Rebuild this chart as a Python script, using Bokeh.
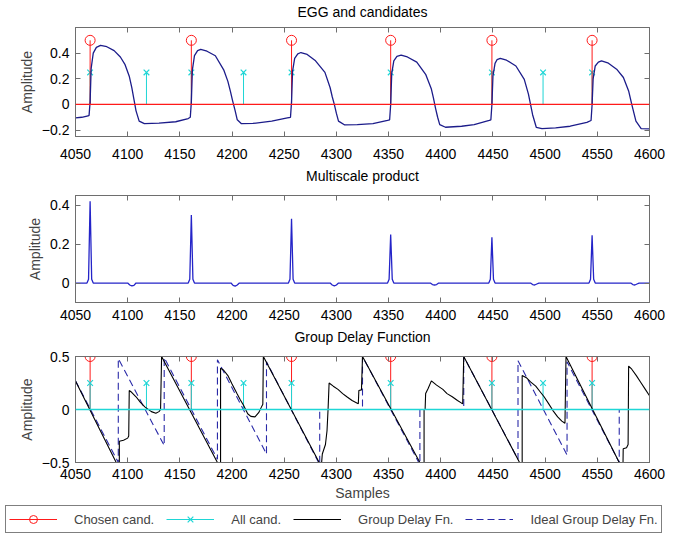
from bokeh.plotting import figure
from bokeh.layouts import column
from bokeh.models import Range1d, FixedTicker, LinearAxis, Span, Legend, LegendItem
from bokeh.embed import file_html
from bokeh.resources import INLINE

FONT = "Liberation Sans"
FRAME = "#6e6e6e"

x_ticks = [4050, 4100, 4150, 4200, 4250, 4300, 4350, 4400, 4450, 4500, 4550, 4600]

chosen_x = [4064, 4161, 4257, 4352, 4449, 4545]
chosen_y = [0.5, 0.5, 0.5, 0.5, 0.5, 0.5]
all_x = [4064, 4118, 4161, 4211, 4257, 4352, 4449, 4498, 4545]
all_y = [0.25, 0.25, 0.25, 0.25, 0.25, 0.25, 0.25, 0.25, 0.25]

egg_x = [4050, 4056, 4062, 4063, 4064, 4065, 4067, 4070, 4074, 4080, 4087, 4093, 4097.5, 4101.5, 4104, 4106, 4108, 4111, 4116, 4130, 4146, 4158, 4160,
         4161, 4162, 4164, 4167, 4170, 4176, 4184, 4192, 4196, 4198.5, 4200.5, 4203, 4205, 4209, 4220, 4238, 4253, 4256,
         4257, 4258, 4260, 4263, 4266, 4272, 4280, 4289, 4294, 4296, 4298, 4300, 4302, 4308, 4320, 4335, 4349, 4351,
         4352, 4353, 4355, 4358, 4362, 4368, 4377, 4385.5, 4391, 4393, 4395, 4397, 4399, 4404.5, 4420, 4432, 4446.5, 4448,
         4449, 4450, 4452, 4454, 4457, 4463, 4472, 4480, 4484, 4486, 4488, 4491.5, 4497, 4510, 4524, 4540, 4544,
         4545, 4546, 4548, 4551, 4554, 4560, 4568.5, 4575, 4580, 4583, 4587, 4592, 4600]
egg_y = [-0.105, -0.10, -0.09, -0.085, 0.02, 0.28, 0.40, 0.445, 0.46, 0.45, 0.42, 0.37, 0.31, 0.22, 0.13, 0.04, -0.05, -0.13, -0.15, -0.145, -0.135, -0.11, -0.10,
         0.02, 0.27, 0.38, 0.42, 0.43, 0.415, 0.38, 0.27, 0.18, 0.10, 0.03, -0.05, -0.12, -0.15, -0.148, -0.13, -0.105, -0.10,
         0.02, 0.26, 0.36, 0.395, 0.405, 0.39, 0.34, 0.25, 0.13, 0.06, 0.0, -0.07, -0.13, -0.16, -0.158, -0.15, -0.125, -0.12,
         0.0, 0.24, 0.34, 0.375, 0.385, 0.37, 0.33, 0.235, 0.12, 0.05, -0.03, -0.10, -0.157, -0.178, -0.17, -0.157, -0.125, -0.12,
         0.0, 0.22, 0.32, 0.35, 0.36, 0.345, 0.30, 0.196, 0.08, 0.0, -0.08, -0.178, -0.188, -0.182, -0.17, -0.14, -0.125,
         0.0, 0.20, 0.30, 0.33, 0.34, 0.325, 0.275, 0.21, 0.105, 0.0, -0.13, -0.188, -0.19]

msp_x = [4050, 4061, 4062.5, 4064, 4065.5, 4067, 4100, 4102, 4104, 4106, 4108,
         4158, 4159.5, 4161, 4162.5, 4164, 4199, 4201, 4203, 4205, 4207,
         4254, 4255.5, 4257, 4258.5, 4260, 4294, 4296, 4298, 4300, 4302,
         4349, 4350.5, 4352, 4353.5, 4355, 4390, 4392, 4394, 4396, 4398,
         4446, 4447.5, 4449, 4450.5, 4452, 4486, 4488, 4490, 4492, 4494,
         4542, 4543.5, 4545, 4546.5, 4548, 4582, 4584, 4586, 4588, 4590, 4600]
msp_y = [0.0, 0.0, 0.02, 0.42, 0.02, 0.0, 0.0, -0.01, -0.015, -0.012, 0.0,
         0.0, 0.02, 0.35, 0.02, 0.0, 0.0, -0.012, -0.016, -0.01, 0.0,
         0.0, 0.02, 0.33, 0.02, 0.0, 0.0, -0.01, -0.015, -0.01, 0.0,
         0.0, 0.02, 0.25, 0.02, 0.0, 0.0, -0.008, -0.01, -0.008, 0.0,
         0.0, 0.02, 0.235, 0.02, 0.0, 0.0, -0.008, -0.01, -0.005, 0.0,
         0.0, 0.02, 0.245, 0.02, 0.0, 0.0, -0.008, -0.01, -0.005, 0.0, 0.0]

gd_x = [4050, 4089, 4090, 4092, 4092, 4096, 4100, 4101, 4101.5, 4104, 4108, 4112, 4116.4, 4122.7, 4127, 4130, 4131.5, 4132.5,
        4186, 4188, 4189, 4189, 4192, 4196, 4200, 4204.7, 4208, 4211, 4215, 4218, 4222, 4225.5, 4228, 4229.5, 4230,
        4283.5, 4285, 4286.5, 4289.5, 4291, 4292, 4293, 4297, 4301.5, 4306, 4310, 4315, 4320, 4321, 4321.5, 4324, 4325,
        4380, 4382, 4384, 4384, 4385, 4385.5, 4388, 4391, 4396, 4402, 4406, 4411, 4416, 4420, 4421, 4422,
        4475.5, 4477, 4478, 4478, 4482, 4486, 4491, 4495, 4499, 4503, 4507.5, 4512, 4516, 4519, 4520,
        4571, 4572, 4574.5, 4574.8, 4578, 4579.5, 4580, 4583, 4587.4, 4592, 4596, 4600]
gd_y = [0.27, -0.5, -0.6, -0.6, -0.3, -0.29, -0.27, -0.25, 0.18, 0.16, 0.12, 0.07, 0.025, -0.02, -0.035, -0.02, 0.0, 0.5,
        -0.5, -0.6, -0.6, 0.39, 0.37, 0.32, 0.24, 0.15, 0.09, 0.04, -0.04, -0.065, -0.07, -0.03, 0.02, 0.05, 0.5,
        -0.5, -0.6, -0.42, -0.33, -0.2, 0.0, 0.25, 0.22, 0.19, 0.15, 0.12, 0.085, 0.06, 0.055, 0.18, 0.185, 0.5,
        -0.5, -0.6, -0.6, 0.0, 0.0, 0.15, 0.2, 0.27, 0.23, 0.19, 0.15, 0.12, 0.085, 0.06, 0.055, 0.5,
        -0.5, -0.6, -0.6, 0.32, 0.3, 0.26, 0.22, 0.17, 0.12, 0.06, -0.01, -0.07, -0.11, -0.13, 0.5,
        -0.5, -0.6, -0.6, -0.37, -0.36, -0.33, 0.41, 0.38, 0.32, 0.25, 0.19, 0.13]

ideal_x = [4050, 4091, 4091, 4135, 4135, 4186, 4186, 4233, 4233, 4284, 4284, 4325, 4325, 4380, 4380, 4422, 4422,
           4474, 4474, 4521, 4521, 4571, 4571, 4600]
ideal_y = [0.27, -0.5, 0.48, -0.34, 0.49, -0.47, 0.47, -0.42, 0.45, -0.52, 0.0, 0.0, 0.5, -0.52, 0.0, 0.0, 0.5,
           -0.47, 0.46, -0.43, 0.45, -0.5, 0.0, 0.0]

legend_labels = ["Chosen cand.", "All cand.", "Group Delay Fn.", "Ideal Group Delay Fn."]

RED = "#ff1a1a"
CYAN = "#1ed6d6"
DASH_BLUE = "#2a2aa8"


def mirror_axis(ticks, label=None, label_standoff=0):
    ax = LinearAxis(ticker=FixedTicker(ticks=ticks), major_label_text_font_size="1px",
                    major_label_text_color=None, major_tick_in=5, major_tick_out=0,
                    major_label_text_line_height=1.0,
                    minor_tick_line_color=None, axis_line_color=FRAME,
                    major_tick_line_color=FRAME, major_label_standoff=0)
    if label:
        ax.axis_label = label
        ax.axis_label_standoff = label_standoff
        ax.axis_label_text_font = FONT
        ax.axis_label_text_font_size = "14px"
        ax.axis_label_text_font_style = "normal"
        ax.axis_label_text_color = "black"
        ax.axis_label_text_line_height = 1.0
    return ax


def make_fig(title, yr, yticks, h, top, bottom, title_standoff, xstand, xlabel=None, xlabel_standoff=3):
    p = figure(width=683, height=h, x_range=Range1d(4050, 4600), y_range=Range1d(*yr),
               output_backend="svg", toolbar_location=None,
               min_border_left=75, min_border_right=34, min_border_top=top, min_border_bottom=bottom)
    p.grid.visible = False
    p.outline_line_color = FRAME
    p.xaxis.ticker = FixedTicker(ticks=x_ticks)
    p.yaxis.ticker = FixedTicker(ticks=yticks)
    p.yaxis.major_label_overrides = {0: "0"}
    for ax in p.xaxis + p.yaxis:
        ax.major_tick_in = 5
        ax.major_tick_out = 0
        ax.minor_tick_line_color = None
        ax.axis_line_color = FRAME
        ax.major_tick_line_color = FRAME
        ax.major_label_text_font = FONT
        ax.major_label_text_font_size = "14px"
        ax.major_label_text_color = "black"
        ax.major_label_text_line_height = 1.0
        ax.axis_label_text_font = FONT
        ax.axis_label_text_font_size = "14px"
        ax.axis_label_text_font_style = "normal"
        ax.axis_label_text_line_height = 1.0
    p.xaxis.major_label_standoff = xstand
    p.yaxis.major_label_standoff = 6
    p.yaxis.axis_label = "Amplitude"
    p.yaxis.axis_label_standoff = 4
    if xlabel:
        p.xaxis.axis_label = xlabel
        p.xaxis.axis_label_standoff = xlabel_standoff
    p.add_layout(mirror_axis(yticks), "right")
    # top mirrored ticks; the subplot title sits on this axis
    p.add_layout(mirror_axis(x_ticks, title, title_standoff), "above")
    return p


# --- EGG and candidates
p1 = make_fig("EGG and candidates", (-0.25, 0.6), [-0.2, 0, 0.2, 0.4], 164, 27, 28, 8, 12)
p1.segment(x0=all_x, y0=0, x1=all_x, y1=all_y, line_color=CYAN, line_width=1)
p1.scatter(all_x, all_y, marker="x", size=8, line_color=CYAN, line_width=1.2)
p1.segment(x0=chosen_x, y0=0, x1=chosen_x, y1=chosen_y, line_color=RED, line_width=1)
p1.scatter(chosen_x, chosen_y, marker="circle", size=10, line_color=RED, fill_color=None, line_width=1)
p1.add_layout(Span(location=0, dimension="width", line_color=RED, line_width=1.2))
p1.line(egg_x, egg_y, line_color="#1c1c8a", line_width=1.3)

# --- Multiscale product
p2 = make_fig("Multiscale product", (-0.1, 0.45), [0, 0.2, 0.4], 161, 29, 23, 12, 7)
p2.line(msp_x, msp_y, line_color="#2424c8", line_width=1.3)

# --- Group Delay Function
p3 = make_fig("Group Delay Function", (-0.5, 0.5), [-0.5, 0, 0.5], 178, 29, 41, 12, 6,
              xlabel="Samples", xlabel_standoff=3)
p3.segment(x0=chosen_x, y0=0, x1=chosen_x, y1=chosen_y, line_color=RED, line_width=1)
p3.scatter(chosen_x, chosen_y, marker="circle", size=10, line_color=RED, fill_color=None, line_width=1)
p3.segment(x0=all_x, y0=0, x1=all_x, y1=all_y, line_color=CYAN, line_width=1)
p3.scatter(all_x, all_y, marker="x", size=8, line_color=CYAN, line_width=1.2)
p3.add_layout(Span(location=0, dimension="width", line_color=CYAN, line_width=1.5))
p3.line(ideal_x, ideal_y, line_color=DASH_BLUE, line_width=1.1, line_dash="7 4")
p3.line(gd_x, gd_y, line_color="black", line_width=1.1)

# --- legend strip: key renderers are hidden, only the legend box is shown
p4 = figure(width=683, height=30, x_range=Range1d(0, 1), y_range=Range1d(0, 1),
            x_axis_type=None, y_axis_type=None, output_backend="svg", toolbar_location=None,
            min_border=0, outline_line_color=None)
k_rs = p4.segment(x0=chosen_x, y0=0, x1=chosen_x, y1=chosen_y, line_color=RED, line_width=1, visible=False)
k_rc = p4.scatter(chosen_x, chosen_y, marker="circle", size=9, line_color=RED, fill_color=None, line_width=1, visible=False)
k_cs = p4.segment(x0=all_x, y0=0, x1=all_x, y1=all_y, line_color=CYAN, line_width=1, visible=False)
k_cx = p4.scatter(all_x, all_y, marker="x", size=7, line_color=CYAN, line_width=1.2, visible=False)
k_gd = p4.line(gd_x, gd_y, line_color="black", line_width=1.1, visible=False)
k_id = p4.line(ideal_x, ideal_y, line_color=DASH_BLUE, line_width=1.1, line_dash="7 4", visible=False)
legend = Legend(items=[
    LegendItem(label=legend_labels[0], renderers=[k_rs, k_rc]),
    LegendItem(label=legend_labels[1], renderers=[k_cs, k_cx]),
    LegendItem(label=legend_labels[2], renderers=[k_gd]),
    LegendItem(label=legend_labels[3], renderers=[k_id]),
], orientation="horizontal", location=(5, 0), margin=0, padding=3,
    glyph_width=48, glyph_height=20, label_standoff=17, spacing=12,
    label_text_font=FONT, label_text_font_size="13px", inactive_fill_alpha=0,
    border_line_color="black", border_line_width=1, background_fill_alpha=1)
p4.add_layout(legend, "center")

layout = column(p1, p2, p3)
open("out.html", "w").write(file_html([layout, p4], INLINE))
